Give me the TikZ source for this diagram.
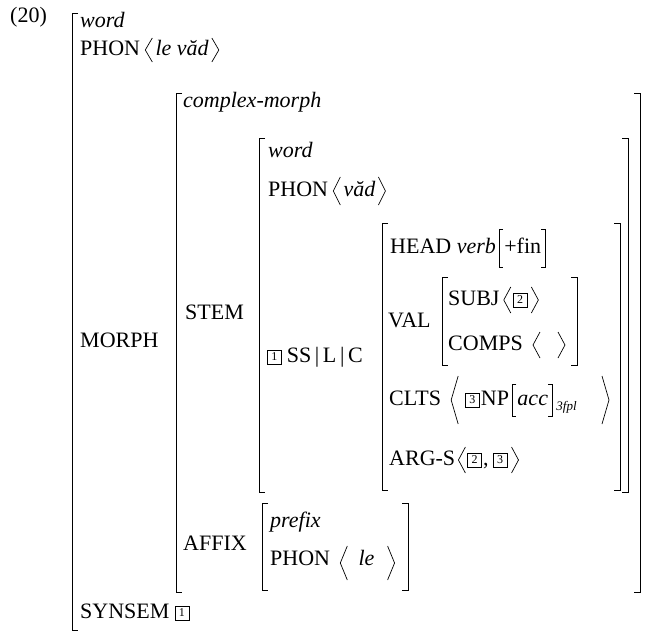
\documentclass[tikz,border=0pt]{standalone}
\usepackage{fontspec}
\setmainfont{Liberation Serif}
\newcommand\avmLB[4][6]{\draw[brk] ({#2+#1},#3) -- (#2,#3) -- (#2,#4) -- ({#2+#1},#4);}
\newcommand\avmRB[4][6]{\draw[brk] ({#2-#1},#3) -- (#2,#3) -- (#2,#4) -- ({#2-#1},#4);}
\newcommand\angL[2]{\draw[ang] ([shift={(7,-#2)}]#1) -- (#1) -- ([shift={(7,#2)}]#1);}
\newcommand\angR[2]{\draw[ang] ([shift={(-7,-#2)}]#1) -- (#1) -- ([shift={(-7,#2)}]#1);}
\newcommand\sqL[2]{\draw[brk] ([shift={(4,-#2)}]#1) -- ([shift={(0,-#2)}]#1) -- ([shift={(0,#2)}]#1) -- ([shift={(4,#2)}]#1);}
\newcommand\sqR[2]{\draw[brk] ([shift={(-4,-#2)}]#1) -- ([shift={(0,-#2)}]#1) -- ([shift={(0,#2)}]#1) -- ([shift={(-4,#2)}]#1);}
\begin{document}
\begin{tikzpicture}[x=1pt,y=-1pt,
  lbl/.style={anchor=west,inner sep=0pt,font=\fontsize{22}{24}\selectfont,text height=15pt,text depth=4pt},
  ilbl/.style={lbl,font=\fontsize{22}{24}\selectfont\itshape},
  sub/.style={anchor=west,inner sep=0pt,font=\fontsize{13}{14}\selectfont\itshape},
  tag/.style={draw,line width=0.6pt,minimum width=14pt,minimum height=14pt,inner sep=0pt,font=\fontsize{12}{13}\selectfont,anchor=west},
  brk/.style={line width=0.9pt},
  ang/.style={line width=0.7pt}]
\useasboundingbox (0,0) rectangle (645,631);
% outer word
\node[lbl] (ex) at (10,17) {(20)};
\avmLB{72}{13}{630}
\node[ilbl] (w0) at (80,22) {word};
\node[lbl] (ph0) at (80,50) {PHON};
\coordinate (a0) at ([shift={(5,0)}]ph0.east); \angL{a0}{12}
\node[ilbl] (pv0) at ([shift={(10,0)}]a0) {le văd};
\coordinate (b0) at ([shift={(10,0)}]pv0.east); \angR{b0}{12}
\node[lbl] (mo) at (80,342) {MORPH};
\node[lbl] (ss0) at (80,613) {SYNSEM};
\node[tag] (t1b) at ([shift={(5,0)}]ss0.east) {1};
% complex-morph
\avmLB{176}{93}{592}
\avmRB{640}{93}{592}
\node[ilbl] (cm) at (183,102) {complex-morph};
\node[lbl] (st) at (185,314) {STEM};
\node[lbl] (af) at (183,545) {AFFIX};
% inner word
\avmLB{259}{138}{492}
\avmRB{628}{138}{492}
\node[ilbl] (w1) at (268,152) {word};
\node[lbl] (ph1) at (268,191) {PHON};
\coordinate (a1) at ([shift={(5,0)}]ph1.east); \angL{a1}{14}
\node[ilbl] (v1) at ([shift={(10,0)}]a1) {văd};
\coordinate (b1) at ([shift={(10,0)}]v1.east); \angR{b1}{14}
\node[tag] (t1a) at (267,357) {1};
\node[lbl] (slc) at ([shift={(5,0)}]t1a.east) {SS\,|\,L\,|\,C};
% synsem value
\avmLB{382}{223}{490}
\avmRB{620}{223}{490}
\node[lbl] (hd) at (390,248) {HEAD \textit{verb}};
\coordinate (h1) at ([shift={(3,0)}]hd.east); \sqL{h1}{19}
\node[lbl] (fin) at ([shift={(5,0)}]h1) {+fin};
\coordinate (h2) at ([shift={(4,0)}]fin.east); \sqR{h2}{19}
\node[lbl] (val) at (388,322) {VAL};
\avmLB{442}{277}{365}
\avmRB{577}{277}{365}
\node[lbl] (sj) at (448,300) {SUBJ};
\coordinate (a2) at ([shift={(4,0)}]sj.east); \angL{a2}{13}
\node[tag] (t2a) at ([shift={(9,0)}]a2) {2};
\coordinate (b2) at ([shift={(11,0)}]t2a.east); \angR{b2}{13}
\node[lbl] (cp) at (448,345) {COMPS};
\coordinate (a3) at ([shift={(10,0)}]cp.east); \angL{a3}{13}
\coordinate (b3) at ([shift={(32,0)}]a3); \angR{b3}{13}
\node[lbl] (cl) at (389,400) {CLTS};
\coordinate (a4) at ([shift={(10,0)}]cl.east); \angL{a4}{24}
\node[tag] (t3a) at ([shift={(14,0)}]a4) {3};
\node[lbl] (np) at ([shift={(1,0)}]t3a.east) {NP};
\coordinate (c1) at ([shift={(3,0)}]np.east); \sqL{c1}{16}
\node[ilbl] (acc) at ([shift={(5,0)}]c1) {acc};
\coordinate (c2) at ([shift={(4,0)}]acc.east); \sqR{c2}{16}
\node[sub] (agr) at ([shift={(4,7)}]c2) {3fpl};
\coordinate (b4) at (609,400); \angR{b4}{24}
\node[lbl] (ag) at (389,460) {ARG-S};
\coordinate (a5) at ([shift={(3,0)}]ag.east); \angL{a5}{13}
\node[tag] (t2b) at ([shift={(9,0)}]a5) {2};
\node[lbl] (cmm) at ([shift={(1,0)}]t2b.east) {,};
\node[tag] (t3b) at ([shift={(4,0)}]cmm.east) {3};
\coordinate (b5) at ([shift={(11,0)}]t3b.east); \angR{b5}{13}
% affix
\avmLB{262}{503}{590}
\avmRB{408}{503}{590}
\node[ilbl] (pf) at (270,522) {prefix};
\node[lbl] (ph2) at (270,560) {PHON};
\coordinate (a6) at ([shift={(10,3)}]ph2.east); \angL{a6}{17}
\node[ilbl] (le) at ([shift={(18,-3)}]a6) {le};
\coordinate (b6) at ([shift={(20,3)}]le.east); \angR{b6}{17}
\end{tikzpicture}
\end{document}
